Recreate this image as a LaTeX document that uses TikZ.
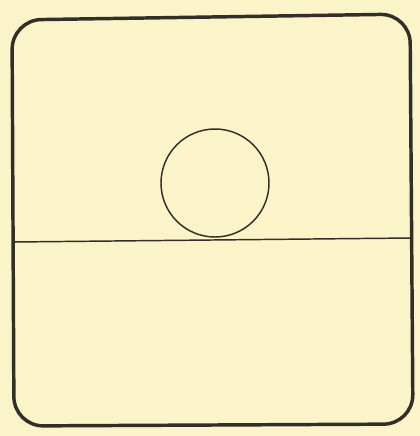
\documentclass[tikz,border=0pt]{standalone}
\usepackage{tikz}
\usetikzlibrary{calc}
\definecolor{paper}{RGB}{251,244,201}
\definecolor{pencil}{RGB}{50,46,40}

\tikzset{
  frame/.style={draw=pencil, line width=2.6pt, rounded corners=22pt},
  thinline/.style={draw=pencil, line width=1.1pt}
}

\begin{document}
\begin{tikzpicture}[x=0.75pt,y=-0.75pt]
\fill[paper] (0,0) rectangle (420,436);
\useasboundingbox (0,0) rectangle (420,436);
% outer box
\draw[frame] (12,20) -- (410,14) -- (413,424) -- (14,426) -- cycle;
% ground line and ball
\coordinate (gl) at (13,242);
\coordinate (gr) at (411,238);
\draw[thinline] (gl) -- (gr);
\draw[thinline] (215,183) circle (54);
\end{tikzpicture}
\end{document}
